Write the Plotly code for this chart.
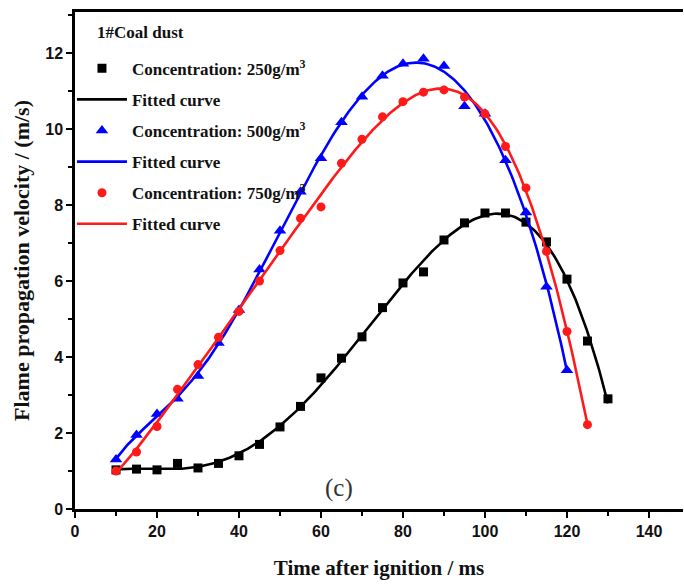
import numpy as np
import plotly.graph_objects as go

# Flame propagation velocity (m/s) vs time after ignition (ms), 1# coal dust
t_250 = [10, 15, 20, 25, 30, 35, 40, 45, 50, 55, 60, 65, 70, 75, 80, 85, 90,
         95, 100, 105, 110, 115, 120, 125, 130]
v_250 = [1.03, 1.05, 1.03, 1.2, 1.08, 1.2, 1.4, 1.7, 2.16, 2.7, 3.45, 3.97,
         4.53, 5.3, 5.95, 6.24, 7.08, 7.53, 7.79, 7.79, 7.55, 7.03, 6.05, 4.42, 2.9]

t_500 = [10, 15, 20, 25, 30, 35, 40, 45, 50, 55, 60, 65, 70, 75, 80, 85, 90,
         95, 100, 105, 110, 115, 120]
v_500 = [1.3, 1.95, 2.5, 2.9, 3.5, 4.37, 5.24, 6.3, 7.32, 8.35, 9.23, 10.18,
         10.85, 11.4, 11.72, 11.85, 11.66, 10.6, 10.4, 9.18, 7.8, 5.85, 3.65]

t_750 = [10, 15, 20, 25, 30, 35, 40, 45, 50, 55, 60, 65, 70, 75, 80, 85, 90,
         95, 100, 105, 110, 115, 120, 125]
v_750 = [1.0, 1.5, 2.17, 3.15, 3.8, 4.52, 5.2, 6.0, 6.8, 7.65, 7.95, 9.1,
         9.73, 10.32, 10.72, 10.97, 11.03, 10.84, 10.4, 9.54, 8.45, 6.78, 4.67, 2.22]

x_ticks = [0, 20, 40, 60, 80, 100, 120, 140]
y_ticks = [0, 2, 4, 6, 8, 10, 12]

series = [
    ("Concentration: 250g/m<sup>3</sup>", t_250, v_250, "#000000", "square", 9),
    ("Concentration: 500g/m<sup>3</sup>", t_500, v_500, "#0000ff", "triangle-up", 11),
    ("Concentration: 750g/m<sup>3</sup>", t_750, v_750, "#ff1a1a", "circle", 9),
]


def fitted(t, v, deg=6):
    """Least-squares polynomial fit evaluated on a dense grid."""
    t = np.asarray(t, float)
    v = np.asarray(v, float)
    c = (t - t.mean()) / t.std()
    p = np.polyfit(c, v, deg)
    tt = np.linspace(t.min(), t.max(), 300)
    return tt, np.polyval(p, (tt - t.mean()) / t.std())


fig = go.Figure()
for i, (name, t, v, col, sym, sz) in enumerate(series):
    fig.add_trace(go.Scatter(
        x=t, y=v, mode="markers", name=name, legendgroup=f"m{i}",
        marker=dict(symbol=sym, size=sz, color=col, line=dict(width=0)),
    ))
    tt, vv = fitted(t, v)
    fig.add_trace(go.Scatter(
        x=tt, y=vv, mode="lines", name="Fitted curve", legendgroup=f"l{i}",
        line=dict(color=col, width=2.6),
    ))

fig.add_annotation(x=64.5, y=0.55, xref="x", yref="y", text="(c)",
                   showarrow=False,
                   font=dict(family="Liberation Serif", size=25, color="#333333"))

# legend heading
fig.add_annotation(x=0.033, y=0.958, xref="paper", yref="paper",
                   xanchor="left", yanchor="middle", text="1#Coal dust",
                   showarrow=False,
                   font=dict(family="Liberation Serif", size=17,
                             color="#111111", weight="bold"))

axis_common = dict(
    showgrid=False, zeroline=False, showline=True, linecolor="black",
    linewidth=2.5, ticks="outside", tickcolor="black", tickwidth=2,
    ticklen=6,
    tickfont=dict(family="Liberation Sans", size=16, color="#111111",
                  weight="bold"),
    minor=dict(ticks="outside", ticklen=4, tickwidth=2, tickcolor="black"),
)

fig.update_xaxes(
    **axis_common, range=[0, 148.3], tickvals=x_ticks, mirror=True,
    minor_dtick=10, minor_tick0=0,
    title=dict(text="Time after ignition / ms", standoff=22,
               font=dict(family="Liberation Serif", size=21, color="#111111",
                         weight="bold")),
)
fig.update_yaxes(
    **axis_common, range=[0, 13.08], tickvals=y_ticks,
    minor_dtick=1, minor_tick0=0,
    title=dict(text="Flame propagation velocity / (m/s)", standoff=10,
               font=dict(family="Liberation Serif", size=22, color="#111111",
                         weight="bold")),
)

fig.update_layout(
    width=684, height=585,
    margin=dict(l=75, r=1, t=12, b=76),
    plot_bgcolor="white", paper_bgcolor="white",
    legend=dict(
        x=-0.005, y=0.922, xanchor="left", yanchor="top",
        bgcolor="rgba(0,0,0,0)", itemwidth=50, tracegroupgap=6,
        font=dict(family="Liberation Serif", size=17, color="#111111",
                  weight="bold"),
    ),
)

fig.write_html("out.html")
